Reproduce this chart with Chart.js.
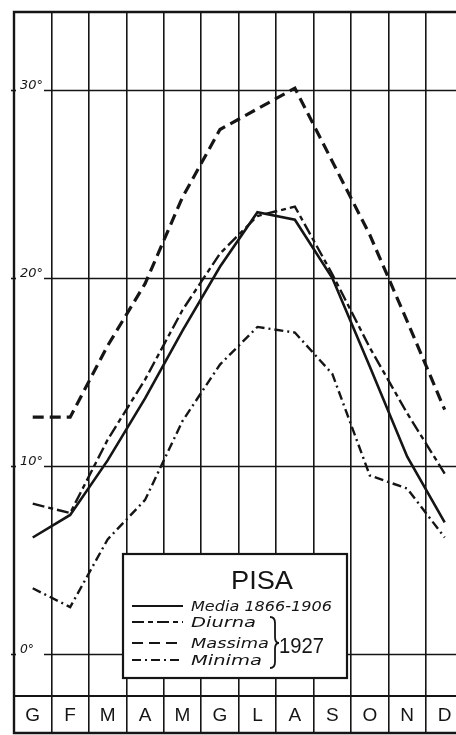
<!DOCTYPE html>
<html>
<head>
<meta charset="utf-8">
<script src="https://cdn.jsdelivr.net/npm/chart.js@4.4.0/dist/chart.umd.min.js"></script>
<style>
  html, body { margin: 0; padding: 0; background: #fff; overflow: hidden; }
  #grafico { display: block; }
</style>
</head>
<body>
<canvas id="grafico" width="464" height="735"></canvas>
<script>
// Mesi e temperature medie mensili (°C)
const mesi = ['G', 'F', 'M', 'A', 'M', 'G', 'L', 'A', 'S', 'O', 'N', 'D'];
const media = [6.2, 7.4, 10.3, 13.6, 17.2, 20.6, 23.5, 23.1, 20.0, 15.3, 10.5, 7.0];
const diurna = [8.0, 7.5, 11.4, 14.6, 18.3, 21.3, 23.3, 23.8, 20.2, 16.3, 12.8, 9.6];
const massima = [12.6, 12.6, 16.4, 19.7, 24.3, 27.9, 29.0, 30.1, 26.2, 22.3, 17.7, 13.0];
const minima = [3.5, 2.5, 6.1, 8.2, 12.4, 15.4, 17.4, 17.1, 14.9, 9.5, 8.8, 6.2];
const gradi = [0, 10, 20, 30];
const titolo = 'PISA';
const anno = '1927';

const INCHIOSTRO = '#151515';

// scrive un testo stirato fino alla larghezza voluta
function testoLargo(ctx, t, x, y, larghezza) {
    const w = ctx.measureText(t).width;
    ctx.save();
    ctx.translate(x, y);
    ctx.scale(larghezza / w, 1);
    ctx.fillText(t, 0, 0);
    ctx.restore();
}

// righe orizzontali dei gradi con le etichette in corsivo
const righeGradi = {
    id: 'righeGradi',
    beforeDatasetsDraw(chart) {
        const ctx = chart.ctx;
        const area = chart.chartArea;
        const sy = chart.scales.y;
        ctx.save();
        ctx.strokeStyle = INCHIOSTRO;
        ctx.fillStyle = INCHIOSTRO;
        ctx.lineWidth = 1.6;
        ctx.font = 'italic 13px "DejaVu Sans"';
        ctx.textBaseline = 'alphabetic';
        gradi.forEach(g => {
            const y = Math.round(sy.getPixelForValue(g)) + 0.5;
            ctx.beginPath();
            ctx.moveTo(44, y);
            ctx.lineTo(area.right, y);
            ctx.stroke();
            // piccolo segno sul bordo
            ctx.beginPath();
            ctx.moveTo(area.left - 3, y);
            ctx.lineTo(area.left + 2, y);
            ctx.stroke();
            testoLargo(ctx, g + '°', 20, y - 2, g === 0 ? 14 : 23);
        });
        ctx.restore();
    }
};

// riquadro della legenda
const riquadro = {
    id: 'riquadro',
    afterDatasetsDraw(chart) {
        const ctx = chart.ctx;
        const ds = chart.data.datasets;
        const x0 = 123, y0 = 554, w = 224, h = 124;
        ctx.save();
        ctx.fillStyle = '#fff';
        ctx.fillRect(x0, y0, w, h);
        ctx.strokeStyle = INCHIOSTRO;
        ctx.lineWidth = 2.2;
        ctx.strokeRect(x0, y0, w, h);

        ctx.fillStyle = INCHIOSTRO;
        ctx.textBaseline = 'alphabetic';
        ctx.font = '25px "Liberation Sans"';
        testoLargo(ctx, titolo, 231, 589, 62);

        const righe = [606, 622, 643, 660];
        const larghezze = [141, 65, 78, 71];
        ctx.font = 'italic 14px "DejaVu Sans"';
        ds.forEach((d, i) => {
            const y = righe[i];
            ctx.save();
            ctx.lineWidth = 2;
            ctx.setLineDash(d.borderDash || []);
            ctx.beginPath();
            ctx.moveTo(132, y);
            ctx.lineTo(183, y);
            ctx.stroke();
            ctx.restore();
            testoLargo(ctx, d.label, 191, y + 5, larghezze[i]);
        });

        // graffa che raccoglie le tre serie del 1927
        ctx.lineWidth = 1.8;
        ctx.beginPath();
        ctx.moveTo(270, 617);
        ctx.quadraticCurveTo(275, 617, 275, 623);
        ctx.lineTo(275, 637);
        ctx.quadraticCurveTo(275, 643, 279, 643);
        ctx.quadraticCurveTo(275, 643, 275, 649);
        ctx.lineTo(275, 662);
        ctx.quadraticCurveTo(275, 668, 270, 668);
        ctx.stroke();

        ctx.font = '22px "Liberation Sans"';
        testoLargo(ctx, anno, 279, 653, 45);
        ctx.restore();
    }
};

// cornice esterna
const cornice = {
    id: 'cornice',
    afterDraw(chart) {
        const ctx = chart.ctx;
        const area = chart.chartArea;
        ctx.save();
        ctx.strokeStyle = INCHIOSTRO;
        ctx.lineWidth = 2.4;
        ctx.beginPath();
        ctx.moveTo(area.right + 5, area.top);
        ctx.lineTo(area.left, area.top);
        ctx.lineTo(area.left, chart.height - 2);
        ctx.lineTo(area.right + 5, chart.height - 2);
        ctx.stroke();
        ctx.restore();
    }
};

const ctx = document.getElementById('grafico').getContext('2d');
new Chart(ctx, {
    type: 'line',
    data: {
        labels: mesi,
        datasets: [
            { label: 'Media 1866-1906', data: media, borderWidth: 2.6, borderDash: [] },
            { label: 'Diurna', data: diurna, borderWidth: 2.4, borderDash: [12, 4, 5, 4] },
            { label: 'Massima', data: massima, borderWidth: 3.2, borderDash: [11, 6] },
            { label: 'Minima', data: minima, borderWidth: 2.4, borderDash: [9, 4, 2, 4] }
        ]
    },
    options: {
        responsive: false,
        animation: false,
        devicePixelRatio: 1,
        layout: { padding: { left: 14, top: 12, right: 0.6, bottom: 0 } },
        elements: {
            point: { radius: 0 },
            line: { tension: 0, fill: false, borderColor: INCHIOSTRO, borderCapStyle: 'butt' }
        },
        plugins: {
            legend: { display: false },
            tooltip: { enabled: false }
        },
        scales: {
            x: {
                offset: true,
                grid: { offset: true, color: INCHIOSTRO, lineWidth: 1.6, tickLength: 37, drawTicks: true },
                border: { display: true, color: INCHIOSTRO, width: 2 },
                ticks: {
                    padding: -29,
                    color: INCHIOSTRO,
                    font: { family: 'Liberation Sans', size: 19 }
                },
                afterFit: scale => { scale.height = 39; }
            },
            y: {
                display: false,
                min: -2.23,
                max: 34.15
            }
        }
    },
    plugins: [righeGradi, riquadro, cornice]
});
</script>
</body>
</html>
